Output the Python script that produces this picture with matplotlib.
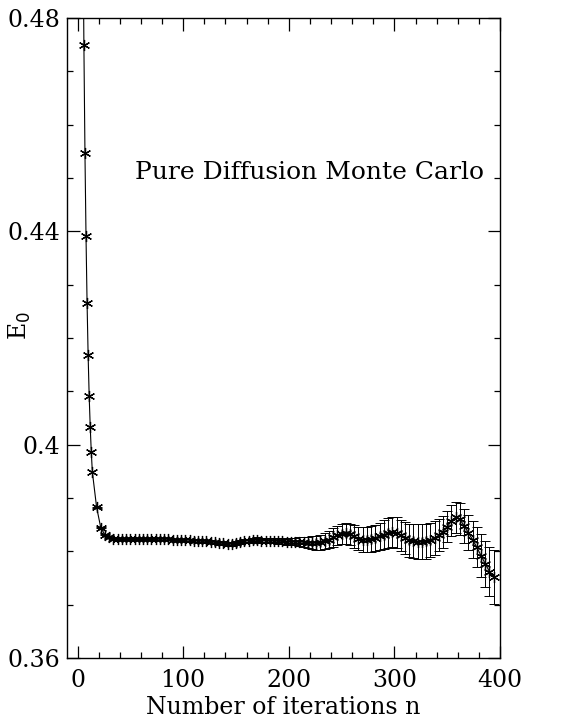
import numpy as np
import matplotlib
matplotlib.use("Agg")
import matplotlib.pyplot as plt  # noqa: E402
from matplotlib.ticker import MultipleLocator, FuncFormatter  # noqa: E402

# transient: first iterations, one step apart
n_start = [5, 6, 7, 8, 9, 10, 11, 12, 13, 14]
e_start = [0.5010, 0.4749, 0.4547, 0.4391, 0.4266, 0.4168, 0.4091, 0.4033,
           0.3986, 0.3949]

# equilibrated part, every 4 iterations, with error bars
n_run = list(range(18, 395, 4))
e_run = [
    0.3883, 0.3844, 0.3831, 0.3826, 0.3824, 0.3823, 0.3823, 0.3823, 0.3823, 0.3824,
    0.3823, 0.3823, 0.3824, 0.3824, 0.3823, 0.3823, 0.3823, 0.3823, 0.3822, 0.3822,
    0.3822, 0.3821, 0.3821, 0.3820, 0.3820, 0.3819, 0.3819, 0.3818, 0.3817, 0.3816,
    0.3815, 0.3814, 0.3814, 0.3815, 0.3817, 0.3819, 0.3820, 0.3821, 0.3821, 0.3820,
    0.3820, 0.3820, 0.3820, 0.3819, 0.3819, 0.3818, 0.3818, 0.3818, 0.3818, 0.3817,
    0.3816, 0.3816, 0.3816, 0.3817, 0.3819, 0.3822, 0.3826, 0.3830, 0.3833, 0.3834,
    0.3832, 0.3828, 0.3824, 0.3822, 0.3822, 0.3823, 0.3825, 0.3828, 0.3831, 0.3834,
    0.3836, 0.3835, 0.3830, 0.3825, 0.3821, 0.3819, 0.3818, 0.3818, 0.3819, 0.3821,
    0.3825, 0.3830, 0.3837, 0.3846, 0.3857, 0.3864, 0.3860, 0.3848, 0.3835, 0.3822,
    0.3808, 0.3792, 0.3777, 0.3762, 0.3752,
]
sig_run = [
    0.0001, 0.0001, 0.0001, 0.0001, 0.0001, 0.0001, 0.0001, 0.0001, 0.0001, 0.0001,
    0.0001, 0.0001, 0.00015, 0.00015, 0.00015, 0.00015, 0.00015, 0.00015, 0.00015, 0.00015,
    0.00015, 0.0002, 0.0002, 0.0002, 0.00025, 0.00025, 0.0003, 0.0003, 0.0003, 0.00035,
    0.00035, 0.0004, 0.0004, 0.0004, 0.0004, 0.0004, 0.0004, 0.0004, 0.0005, 0.0005,
    0.0005, 0.0005, 0.0005, 0.0006, 0.0006, 0.0006, 0.0007, 0.0007, 0.0008, 0.0009,
    0.0010, 0.0012, 0.0013, 0.0014, 0.0015, 0.0016, 0.0017, 0.0018, 0.0019, 0.0020,
    0.0020, 0.0021, 0.0022, 0.0023, 0.0024, 0.0025, 0.0025, 0.0026, 0.0027, 0.0028,
    0.0028, 0.0029, 0.0029, 0.0030, 0.0031, 0.0032, 0.0033, 0.0033, 0.0033, 0.0032,
    0.0031, 0.0030, 0.0030, 0.0029, 0.0029, 0.0029, 0.0030, 0.0032, 0.0033, 0.0035,
    0.0037, 0.0040, 0.0043, 0.0046, 0.0050,
]

n_all = np.array(n_start + n_run)
e_all = np.array(e_start + e_run)

plt.rcParams["font.family"] = ["DejaVu Serif"]
FS = 17

fig = plt.figure(figsize=(5.74, 7.2), dpi=100)
ax = fig.add_axes([67 / 574, 62 / 720, 433 / 574, 640 / 720])

asterisk = (6, 2, 0)
ax.plot(n_all, e_all, color="k", lw=0.8, marker=asterisk, ms=8, mew=0.9)
ax.errorbar(n_run, e_run, yerr=sig_run, fmt="none", ecolor="k",
            elinewidth=0.7, capsize=3.5, capthick=0.7)

ax.set_xlim(-10, 400)
ax.set_ylim(0.36, 0.48)
ax.xaxis.set_major_locator(MultipleLocator(100))
ax.xaxis.set_minor_locator(MultipleLocator(20))
ax.yaxis.set_major_locator(MultipleLocator(0.04))
ax.yaxis.set_minor_locator(MultipleLocator(0.01))
ax.yaxis.set_major_formatter(FuncFormatter(lambda v, p: f"{v:g}"))
ax.tick_params(which="both", direction="in", top=True, right=True,
               width=0.9, labelsize=FS)
ax.tick_params(which="major", length=9, pad=8)
ax.tick_params(which="minor", length=4.5)
ax.tick_params(axis="y", which="major", pad=5)
for s in ax.spines.values():
    s.set_linewidth(1.0)

ax.set_xlabel("Number of iterations n", fontsize=FS, labelpad=3)
ax.set_ylabel(r"E$_0$", fontsize=FS)
ax.yaxis.set_label_coords(-0.079, 0.52)
ax.text(0.561, 0.759, "Pure Diffusion Monte Carlo", transform=ax.transAxes,
        ha="center", va="center", fontsize=18)

fig.savefig("out.png", dpi=100, facecolor="white")
